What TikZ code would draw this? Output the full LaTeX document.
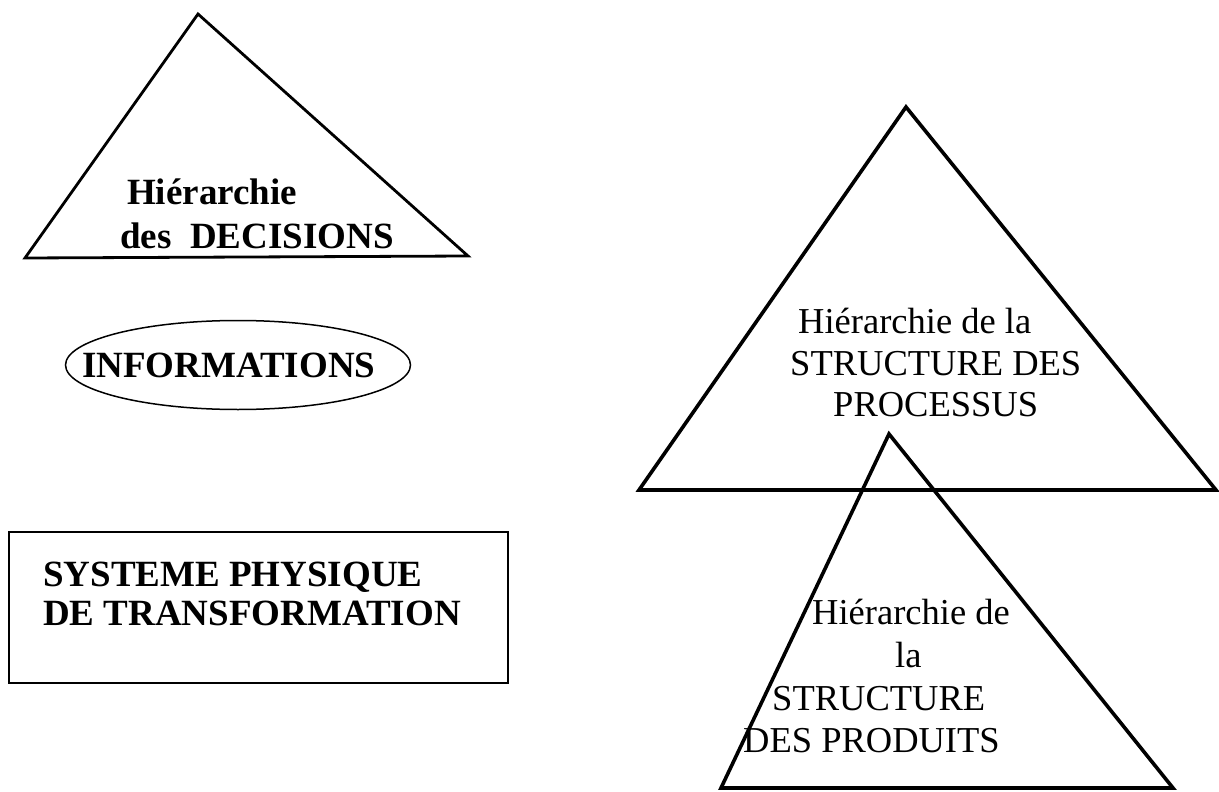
\documentclass[tikz,border=0pt]{standalone}
\usepackage{fontspec}
\setmainfont{Liberation Serif}
\usetikzlibrary{shapes.geometric}
\begin{document}
\begin{tikzpicture}[x=1pt,y=-1pt,
  tri/.style={draw, line width=3.6pt, line join=miter},
  thintri/.style={draw, line width=2.8pt, line join=miter},
  lbl/.style={inner sep=0pt, anchor=base west, font=\fontsize{36.5}{40}\selectfont},
  blbl/.style={inner sep=0pt, anchor=base west, font=\fontsize{37}{40}\selectfont\bfseries}]
\useasboundingbox (0,0) rectangle (1219,792);

% left triangle
\coordinate (dA) at (198,14);
\coordinate (dB) at (25,258);
\coordinate (dC) at (468,256);
\draw[thintri] (dA) -- (dB) -- (dC) -- cycle;
\node[blbl] (d1) at (127,204) {Hiérarchie};
\node[blbl] (d2) at (120,248) {des\ \ DECISIONS};

% ellipse
\node[draw, ellipse, line width=1.5pt, minimum width=345, minimum height=89, inner sep=0pt] (info) at (238,365) {};
\node[blbl] (infot) at (82,377) {INFORMATIONS};

% rectangle
\node[draw, line width=1.5pt, anchor=north west, minimum width=499, minimum height=151, inner sep=0pt] (sys) at (8,531) {};
\node[blbl] (s1) at (43,586) {SYSTEME PHYSIQUE};
\node[blbl] (s2) at (43,625) {DE TRANSFORMATION};

% big right triangle
\coordinate (pA) at (906,107);
\coordinate (pB) at (639,490);
\coordinate (pC) at (1216,490);
\draw[tri] (pA) -- (pB) -- (pC) -- cycle;
\node[lbl] (p1) at (798,333) {Hiérarchie de la};
\node[lbl] (p2) at (790,375) {STRUCTURE DES};
\node[lbl] (p3) at (833,416) {PROCESSUS};

% small right triangle
\coordinate (qA) at (889,434);
\coordinate (qB) at (721,788);
\coordinate (qC) at (1173,788);
\draw[tri] (qA) -- (qB) -- (qC) -- cycle;
\node[lbl] (q1) at (812,624) {Hiérarchie de};
\node[lbl] (q2) at (895,667) {la};
\node[lbl] (q3) at (772,710) {STRUCTURE};
\node[lbl] (q4) at (743,752) {DES PRODUITS};
\end{tikzpicture}
\end{document}
